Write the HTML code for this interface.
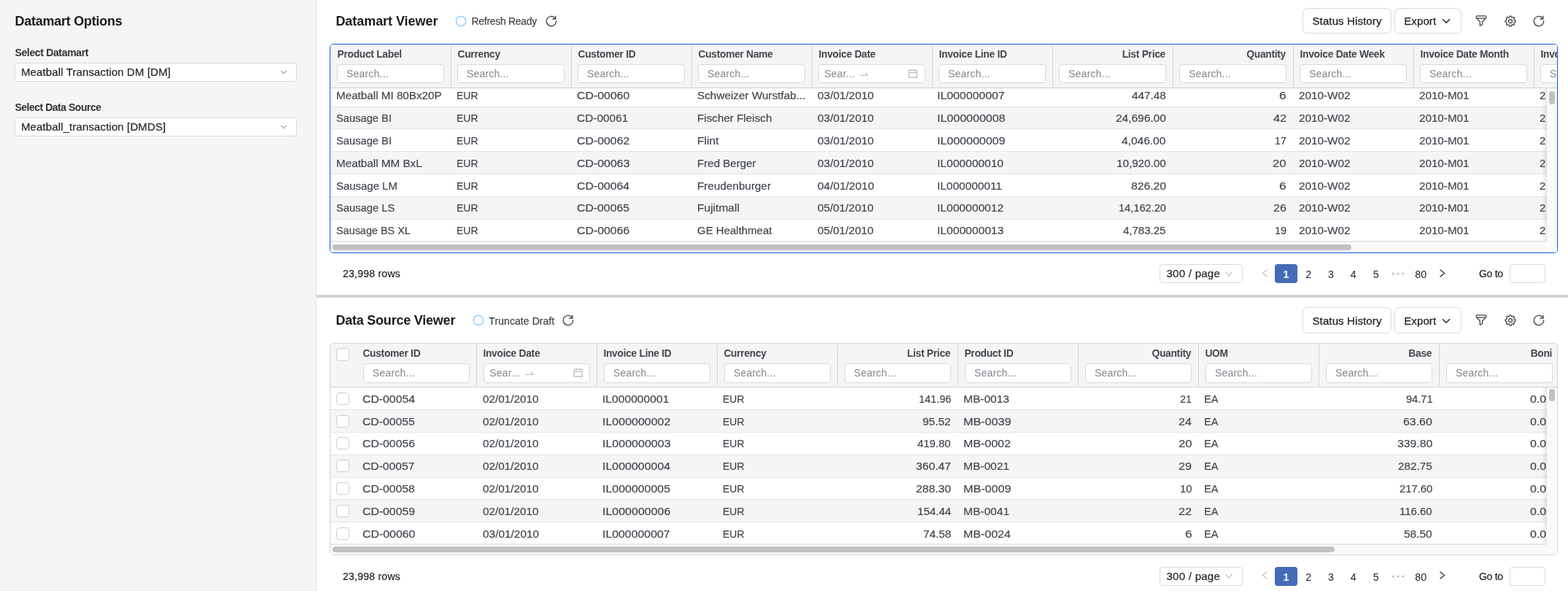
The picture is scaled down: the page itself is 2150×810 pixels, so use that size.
<!DOCTYPE html>
<html lang="en"><head><meta charset="utf-8"><title>Datamart Viewer</title>
<style>
*{box-sizing:border-box;margin:0;padding:0}
html,body{width:2150px;height:810px;overflow:hidden;background:#fff}
body{position:relative;font-family:"Liberation Sans",sans-serif;color:#41474e;-webkit-font-smoothing:antialiased}
.a{position:absolute;white-space:nowrap}
.ic{position:absolute;display:block}
.side{left:0;top:0;width:434px;height:810px;background:#f5f5f5;border-right:1px solid #e4e6e9}
.h1{font-size:18px;font-weight:700;color:#1a1a1a;line-height:24px;letter-spacing:-0.2px}
.lbl{font-size:14px;font-weight:700;color:#333;line-height:20px;letter-spacing:-0.4px}
.sel{background:#fff;border:1px solid #d9d9d9;border-radius:4px}
.selt{font-size:15px;color:#1f1f1f;line-height:20px;letter-spacing:0.12px;-webkit-text-stroke:0.2px #1f1f1f}
.status{font-size:14px;color:#40464c;line-height:20px;letter-spacing:-0.1px;-webkit-text-stroke:0.2px #40464c}
.ring{border:1.5px solid #79c3fb;border-radius:50%}
.btn{background:#fff;border:1px solid #d4d8dc;border-radius:7px}
.btnt{font-size:15px;color:#1f1f1f;line-height:20px;letter-spacing:0.12px;-webkit-text-stroke:0.25px #1f1f1f}
.split{left:434px;top:404px;width:1716px;height:4px;background:#ced2d6}
.tbl{overflow:hidden;border-radius:5px;background:#fff}
.tbl1{border:1px solid #0b5ed3}
.tbl2{border:1px solid #d0d5da}
.thead{left:0;top:0;height:60px;background:#f5f5f5;border-bottom:1px solid #cdd2d6}
.th{font-size:13.8px;font-weight:700;color:#42484f;line-height:20px;letter-spacing:-0.28px}
.vsep{width:1px;background:#d0d4d8}
.inp{background:#fff;border:1px solid #d9d9d9;border-radius:4px;height:26px}
.ph{font-size:14px;color:#83888f;line-height:20px;letter-spacing:0.2px}
.row{left:0;background:#fff;border-bottom:1px solid #e1e4e7}
.row.alt{background:#f5f5f5}
.td{transform-origin:0 0;font-size:15.1px;color:#41474e;line-height:20px;-webkit-text-stroke:0.2px #41474e}
.r{text-align:right}
.cb{background:#fff;border:1px solid #c9cfd5;border-radius:4px}
.hsb{background:#fafafa;border-top:1px solid #ececec}
.thumb{background:#c1c1c1;border-radius:4px}
.vsb{background:#fafafa}
.shadow{background:linear-gradient(to right,rgba(0,0,0,0),rgba(0,0,0,0.10))}
.ft{font-size:14px;color:#1f1f1f;line-height:20px;letter-spacing:0.25px;-webkit-text-stroke:0.2px #1f1f1f}
.pg{font-size:14.2px;color:#1f1f1f;line-height:20px;text-align:center}
.pgact{background:#456bb9;border-radius:4px}
</style></head><body>
<div class="a side"></div>
<div class="a h1" style="left:20.4px;top:17.36px;letter-spacing:-0.24px;">Datamart Options</div>
<div class="a lbl" style="left:20.4px;top:61.85px;letter-spacing:-0.34px;">Select Datamart</div>
<div class="a sel" style="left:20px;top:86px;width:387px;height:26px;"></div>
<div class="a selt" style="left:29px;top:89.00px;">Meatball Transaction DM [DM]</div>
<svg class="ic" style="left:376.00px;top:86.40px;width:26px;height:26px" viewBox="0 0 26 26" fill="none" stroke="#a9a9a9" stroke-width="1.3" stroke-linecap="round" stroke-linejoin="round"><path d="M9.50 11.15L13 14.85L16.50 11.15"/></svg>
<div class="a lbl" style="left:20.4px;top:136.85px;letter-spacing:-0.48px;">Select Data Source</div>
<div class="a sel" style="left:20px;top:161px;width:387px;height:26px;"></div>
<div class="a selt" style="left:29px;top:164.00px;">Meatball_transaction [DMDS]</div>
<svg class="ic" style="left:376.00px;top:161.40px;width:26px;height:26px" viewBox="0 0 26 26" fill="none" stroke="#a9a9a9" stroke-width="1.3" stroke-linecap="round" stroke-linejoin="round"><path d="M9.50 11.15L13 14.85L16.50 11.15"/></svg>
<div class="a h1" style="left:460.4px;top:17.36px;letter-spacing:-0.05px;">Datamart Viewer</div>
<svg class="ic" style="left:618.70px;top:15.70px;width:26px;height:26px" viewBox="0 0 26 26" fill="none" stroke="#82cafc" stroke-width="1.3" stroke-linecap="round" stroke-linejoin="round"><circle cx="13" cy="13" r="6.6"/></svg>
<div class="a status" style="left:646.5px;top:19.35px;letter-spacing:-0.3px;">Refresh Ready</div>
<svg class="ic" style="left:742.70px;top:15.50px;width:26px;height:26px" viewBox="0 0 26 26" fill="none" stroke="#3e444a" stroke-width="1.3" stroke-linecap="round" stroke-linejoin="round"><path d="M19.69 12.65A6.7 6.7 0 1 1 18.97 9.96"/><path d="M18.8 6.1V10H14.9"/></svg>
<div class="a btn" style="left:1786px;top:11px;width:122px;height:35px;"></div>
<div class="a btnt" style="left:1799.5px;top:18.60px;">Status History</div>
<div class="a btn" style="left:1912px;top:11px;width:92px;height:35px;"></div>
<div class="a btnt" style="left:1925.2px;top:18.60px;">Export</div>
<svg class="ic" style="left:1969.80px;top:16.30px;width:26px;height:26px" viewBox="0 0 26 26" fill="none" stroke="#25282c" stroke-width="1.5" stroke-linecap="round" stroke-linejoin="round"><path d="M8.50 10.75L13 15.25L17.50 10.75"/></svg>
<svg class="ic" style="left:2018.00px;top:16.00px;width:26px;height:26px" viewBox="0 0 26 26" fill="none" stroke="#3e444a" stroke-width="1.3" stroke-linecap="round" stroke-linejoin="round"><rect x="6.1" y="5.9" width="13.8" height="3.2" rx="1.6" ry="1.6"/><path d="M6.7 9.1L11.3 13.7V19.2L14.6 17.6V13.7L19.3 9.1"/></svg>
<svg class="ic" style="left:2057.80px;top:15.50px;width:26px;height:26px" viewBox="0 0 26 26" fill="none" stroke="#3e444a" stroke-width="1.25" stroke-linecap="round" stroke-linejoin="round"><path d="M11.62 7.68L11.83 6.00L14.17 6.00L14.38 7.68L15.79 8.26L17.12 7.22L18.78 8.88L17.74 10.21L18.32 11.62L20.00 11.83L20.00 14.17L18.32 14.38L17.74 15.79L18.78 17.12L17.12 18.78L15.79 17.74L14.38 18.32L14.17 20.00L11.83 20.00L11.62 18.32L10.21 17.74L8.88 18.78L7.22 17.12L8.26 15.79L7.68 14.38L6.00 14.17L6.00 11.83L7.68 11.62L8.26 10.21L7.22 8.88L8.88 7.22L10.21 8.26Z"/><circle cx="13" cy="13" r="2.5"/></svg>
<svg class="ic" style="left:2096.80px;top:15.50px;width:26px;height:26px" viewBox="0 0 26 26" fill="none" stroke="#3e444a" stroke-width="1.3" stroke-linecap="round" stroke-linejoin="round"><path d="M19.69 12.65A6.7 6.7 0 1 1 18.97 9.96"/><path d="M18.8 6.1V10H14.9"/></svg>
<div class="a tbl tbl1" style="left:452px;top:60px;width:1684px;height:287px"><div class="a thead" style="width:1684px"></div><div class="a vsep" style="left:165px;top:1px;width:1px;height:57px;"></div><div class="a th" style="left:9.5px;top:3.52px;">Product Label</div><div class="a inp" style="left:9px;top:27px;width:147px;height:26px;"></div><div class="a ph" style="left:22px;top:30.15px;">Search...</div><div class="a vsep" style="left:330px;top:1px;width:1px;height:57px;"></div><div class="a th" style="left:174.5px;top:3.52px;">Currency</div><div class="a inp" style="left:174px;top:27px;width:147px;height:26px;"></div><div class="a ph" style="left:187px;top:30.15px;">Search...</div><div class="a vsep" style="left:495px;top:1px;width:1px;height:57px;"></div><div class="a th" style="left:339.5px;top:3.52px;">Customer ID</div><div class="a inp" style="left:339px;top:27px;width:147px;height:26px;"></div><div class="a ph" style="left:352px;top:30.15px;">Search...</div><div class="a vsep" style="left:660px;top:1px;width:1px;height:57px;"></div><div class="a th" style="left:504.5px;top:3.52px;">Customer Name</div><div class="a inp" style="left:504px;top:27px;width:147px;height:26px;"></div><div class="a ph" style="left:517px;top:30.15px;">Search...</div><div class="a vsep" style="left:825px;top:1px;width:1px;height:57px;"></div><div class="a th" style="left:669.5px;top:3.52px;">Invoice Date</div><div class="a inp" style="left:669px;top:27px;width:147px;height:26px;"></div><div class="a ph" style="left:677.3px;top:30.15px;">Sear...</div><svg class="ic" style="left:724.8px;top:33.5px;width:13.5px;height:13.5px;" viewBox="64 64 896 896" fill="#b5b5b5"><path d="M873.1 596.2l-164-208A32 32 0 00684 376h-64.8c-6.700 0-10.400 7.700-6.300 13l144.300 183H152c-4.400 0-8 3.600-8 8v60c0 4.400 3.600 8 8 8h695.900c26.800 0 41.700-30.800 25.200-51.800z"/></svg><svg class="ic" style="left:792px;top:32.8px;width:13.4px;height:13.4px;" viewBox="64 64 896 896" fill="#b5b5b5"><path d="M880 184H712v-64c0-4.4-3.6-8-8-8h-56c-4.4 0-8 3.6-8 8v64H384v-64c0-4.4-3.6-8-8-8h-56c-4.4 0-8 3.6-8 8v64H144c-17.7 0-32 14.3-32 32v664c0 17.7 14.3 32 32 32h736c17.7 0 32-14.3 32-32V216c0-17.7-14.3-32-32-32zm-40 656H184V460h656v380zM184 392V256h128v48c0 4.4 3.600 8 8 8h56c4.400 0 8-3.600 8-8v-48h256v48c0 4.400 3.600 8 8 8h56c4.400 0 8-3.600 8-8v-48h128v136H184z"/></svg><div class="a vsep" style="left:990px;top:1px;width:1px;height:57px;"></div><div class="a th" style="left:834.5px;top:3.52px;">Invoice Line ID</div><div class="a inp" style="left:834px;top:27px;width:147px;height:26px;"></div><div class="a ph" style="left:847px;top:30.15px;">Search...</div><div class="a vsep" style="left:1155px;top:1px;width:1px;height:57px;"></div><div class="a th" style="left:999px;top:3.52px;width:146px;text-align:right;">List Price</div><div class="a inp" style="left:999px;top:27px;width:147px;height:26px;"></div><div class="a ph" style="left:1012px;top:30.15px;">Search...</div><div class="a vsep" style="left:1320px;top:1px;width:1px;height:57px;"></div><div class="a th" style="left:1164px;top:3.52px;width:146px;text-align:right;">Quantity</div><div class="a inp" style="left:1164px;top:27px;width:147px;height:26px;"></div><div class="a ph" style="left:1177px;top:30.15px;">Search...</div><div class="a vsep" style="left:1485px;top:1px;width:1px;height:57px;"></div><div class="a th" style="left:1329.5px;top:3.52px;">Invoice Date Week</div><div class="a inp" style="left:1329px;top:27px;width:147px;height:26px;"></div><div class="a ph" style="left:1342px;top:30.15px;">Search...</div><div class="a vsep" style="left:1650px;top:1px;width:1px;height:57px;"></div><div class="a th" style="left:1494.5px;top:3.52px;">Invoice Date Month</div><div class="a inp" style="left:1494px;top:27px;width:147px;height:26px;"></div><div class="a ph" style="left:1507px;top:30.15px;">Search...</div><div class="a vsep" style="left:1815px;top:1px;width:1px;height:57px;"></div><div class="a th" style="left:1659.5px;top:3.52px;">Invoice Date Quarter</div><div class="a inp" style="left:1659px;top:27px;width:147px;height:26px;"></div><div class="a ph" style="left:1672px;top:30.15px;">Search...</div><div class="a row" style="top:60px;width:1684px;height:26px;overflow:hidden"><div class="a td" style="left:7.55px;top:-0.23px;transform:scaleX(1.0085);">Meatball MI 80Bx20P</div><div class="a td" style="left:172.65px;top:-0.23px;transform:scaleX(0.9284);">EUR</div><div class="a td" style="left:338.01px;top:-0.23px;transform:scaleX(1.0519);">CD-00060</div><div class="a td" style="left:503.11px;top:-0.23px;transform:scaleX(1.0144);">Schweizer Wurstfab...</div><div class="a td" style="left:668.20px;top:-0.23px;transform:scaleX(1.0213);">03/01/2010</div><div class="a td" style="left:832.34px;top:-0.23px;transform:scaleX(1.0509);">IL000000007</div><div class="a td" style="left:1099.06px;top:-0.23px;transform:scaleX(1.0134);">447.48</div><div class="a td" style="left:1301.34px;top:-0.23px;transform:scaleX(1.1443);">6</div><div class="a td" style="left:1328.04px;top:-0.23px;transform:scaleX(1.0123);">2010-W02</div><div class="a td" style="left:1493.04px;top:-0.23px;transform:scaleX(1.0073);">2010-M01</div><div class="a" style="left:1657.80px;top:-0.23px;width:8.57px;height:20px;overflow:hidden"><div class="a td" style="left:0.26px;top:0;transform:scaleX(0.9834);">2010-Q1</div></div></div><div class="a row alt" style="top:86px;width:1684px;height:30px;overflow:hidden"><div class="a td" style="left:8.14px;top:4.77px;transform:scaleX(0.9735);">Sausage BI</div><div class="a td" style="left:172.65px;top:4.77px;transform:scaleX(0.9284);">EUR</div><div class="a td" style="left:338.03px;top:4.77px;transform:scaleX(1.0216);">CD-00061</div><div class="a td" style="left:502.55px;top:4.77px;transform:scaleX(1.0088);">Fischer Fleisch</div><div class="a td" style="left:668.20px;top:4.77px;transform:scaleX(1.0213);">03/01/2010</div><div class="a td" style="left:832.33px;top:4.77px;transform:scaleX(1.0612);">IL000000008</div><div class="a td" style="left:1077.03px;top:4.77px;transform:scaleX(1.0235);">24,696.00</div><div class="a td" style="left:1292.84px;top:4.77px;transform:scaleX(1.0825);">42</div><div class="a td" style="left:1328.04px;top:4.77px;transform:scaleX(1.0123);">2010-W02</div><div class="a td" style="left:1493.04px;top:4.77px;transform:scaleX(1.0073);">2010-M01</div><div class="a" style="left:1657.80px;top:4.77px;width:8.57px;height:20px;overflow:hidden"><div class="a td" style="left:0.26px;top:0;transform:scaleX(0.9834);">2010-Q1</div></div></div><div class="a row" style="top:116px;width:1684px;height:31px;overflow:hidden"><div class="a td" style="left:8.14px;top:5.77px;transform:scaleX(0.9735);">Sausage BI</div><div class="a td" style="left:172.65px;top:5.77px;transform:scaleX(0.9284);">EUR</div><div class="a td" style="left:338.01px;top:5.77px;transform:scaleX(1.0514);">CD-00062</div><div class="a td" style="left:502.52px;top:5.77px;transform:scaleX(1.0375);">Flint</div><div class="a td" style="left:668.20px;top:5.77px;transform:scaleX(1.0213);">03/01/2010</div><div class="a td" style="left:832.33px;top:5.77px;transform:scaleX(1.0594);">IL000000009</div><div class="a td" style="left:1085.46px;top:5.77px;transform:scaleX(1.0266);">4,046.00</div><div class="a td" style="left:1295.12px;top:5.77px;transform:scaleX(0.9403);">17</div><div class="a td" style="left:1328.04px;top:5.77px;transform:scaleX(1.0123);">2010-W02</div><div class="a td" style="left:1493.04px;top:5.77px;transform:scaleX(1.0073);">2010-M01</div><div class="a" style="left:1657.80px;top:5.77px;width:8.57px;height:20px;overflow:hidden"><div class="a td" style="left:0.26px;top:0;transform:scaleX(0.9834);">2010-Q1</div></div></div><div class="a row alt" style="top:147px;width:1684px;height:31px;overflow:hidden"><div class="a td" style="left:7.55px;top:5.77px;transform:scaleX(1.0095);">Meatball MM BxL</div><div class="a td" style="left:172.65px;top:5.77px;transform:scaleX(0.9284);">EUR</div><div class="a td" style="left:338.00px;top:5.77px;transform:scaleX(1.0538);">CD-00063</div><div class="a td" style="left:502.56px;top:5.77px;transform:scaleX(1.0015);">Fred Berger</div><div class="a td" style="left:668.20px;top:5.77px;transform:scaleX(1.0213);">03/01/2010</div><div class="a td" style="left:832.37px;top:5.77px;transform:scaleX(1.0324);">IL000000010</div><div class="a td" style="left:1078.04px;top:5.77px;transform:scaleX(1.0083);">10,920.00</div><div class="a td" style="left:1292.37px;top:5.77px;transform:scaleX(1.0994);">20</div><div class="a td" style="left:1328.04px;top:5.77px;transform:scaleX(1.0123);">2010-W02</div><div class="a td" style="left:1493.04px;top:5.77px;transform:scaleX(1.0073);">2010-M01</div><div class="a" style="left:1657.80px;top:5.77px;width:8.57px;height:20px;overflow:hidden"><div class="a td" style="left:0.26px;top:0;transform:scaleX(0.9834);">2010-Q1</div></div></div><div class="a row" style="top:178px;width:1684px;height:31px;overflow:hidden"><div class="a td" style="left:8.13px;top:5.77px;transform:scaleX(0.9895);">Sausage LM</div><div class="a td" style="left:172.65px;top:5.77px;transform:scaleX(0.9284);">EUR</div><div class="a td" style="left:338.01px;top:5.77px;transform:scaleX(1.0489);">CD-00064</div><div class="a td" style="left:502.55px;top:5.77px;transform:scaleX(1.0121);">Freudenburger</div><div class="a td" style="left:668.20px;top:5.77px;transform:scaleX(1.0267);">04/01/2010</div><div class="a td" style="left:832.38px;top:5.77px;transform:scaleX(1.0219);">IL000000011</div><div class="a td" style="left:1097.72px;top:5.77px;transform:scaleX(1.0411);">826.20</div><div class="a td" style="left:1301.34px;top:5.77px;transform:scaleX(1.1443);">6</div><div class="a td" style="left:1328.04px;top:5.77px;transform:scaleX(1.0123);">2010-W02</div><div class="a td" style="left:1493.04px;top:5.77px;transform:scaleX(1.0073);">2010-M01</div><div class="a" style="left:1657.80px;top:5.77px;width:8.57px;height:20px;overflow:hidden"><div class="a td" style="left:0.26px;top:0;transform:scaleX(0.9834);">2010-Q1</div></div></div><div class="a row alt" style="top:209px;width:1684px;height:31px;overflow:hidden"><div class="a td" style="left:8.14px;top:5.17px;transform:scaleX(0.9763);">Sausage LS</div><div class="a td" style="left:172.65px;top:5.17px;transform:scaleX(0.9284);">EUR</div><div class="a td" style="left:338.01px;top:5.17px;transform:scaleX(1.0461);">CD-00065</div><div class="a td" style="left:502.52px;top:5.17px;transform:scaleX(1.0305);">Fujitmall</div><div class="a td" style="left:668.20px;top:5.17px;transform:scaleX(1.0153);">05/01/2010</div><div class="a td" style="left:832.36px;top:5.17px;transform:scaleX(1.0333);">IL000000012</div><div class="a td" style="left:1080.78px;top:5.17px;transform:scaleX(0.9672);">14,162.20</div><div class="a td" style="left:1292.93px;top:5.17px;transform:scaleX(1.0697);">26</div><div class="a td" style="left:1328.04px;top:5.17px;transform:scaleX(1.0123);">2010-W02</div><div class="a td" style="left:1493.04px;top:5.17px;transform:scaleX(1.0073);">2010-M01</div><div class="a" style="left:1657.80px;top:5.17px;width:8.57px;height:20px;overflow:hidden"><div class="a td" style="left:0.26px;top:0;transform:scaleX(0.9834);">2010-Q1</div></div></div><div class="a row" style="top:240px;width:1684px;height:30px;overflow:hidden"><div class="a td" style="left:8.15px;top:4.57px;transform:scaleX(0.9552);">Sausage BS XL</div><div class="a td" style="left:172.65px;top:4.57px;transform:scaleX(0.9284);">EUR</div><div class="a td" style="left:338.01px;top:4.57px;transform:scaleX(1.0505);">CD-00066</div><div class="a td" style="left:503.05px;top:4.57px;transform:scaleX(0.9928);">GE Healthmeat</div><div class="a td" style="left:668.20px;top:4.57px;transform:scaleX(1.0153);">05/01/2010</div><div class="a td" style="left:832.36px;top:4.57px;transform:scaleX(1.0352);">IL000000013</div><div class="a td" style="left:1087.40px;top:4.57px;transform:scaleX(0.9940);">4,783.25</div><div class="a td" style="left:1294.65px;top:4.57px;transform:scaleX(0.9669);">19</div><div class="a td" style="left:1328.04px;top:4.57px;transform:scaleX(1.0123);">2010-W02</div><div class="a td" style="left:1493.04px;top:4.57px;transform:scaleX(1.0073);">2010-M01</div><div class="a" style="left:1657.80px;top:4.57px;width:8.57px;height:20px;overflow:hidden"><div class="a td" style="left:0.26px;top:0;transform:scaleX(0.9834);">2010-Q1</div></div></div><div class="a hsb" style="left:0px;top:270px;width:1682px;height:15px;"><div class="a thumb" style="left:3px;top:3px;width:1397px;height:8px;"></div></div><div class="a shadow" style="left:1661px;top:60px;width:7px;height:209px;"></div><div class="a vsb" style="left:1668px;top:60px;width:15px;height:225px;"><div class="a thumb" style="left:3px;top:4px;width:8px;height:18px;"></div></div></div>
<div class="a ft" style="left:470px;top:365.35px;">23,998 rows</div>
<div class="a sel" style="left:1590px;top:362px;width:114px;height:26px;"></div>
<div class="a selt" style="left:1599.5px;top:365.20px;letter-spacing:0.27px;">300 / page</div>
<svg class="ic" style="left:1678.5px;top:369.5px;width:11.5px;height:11.5px;" viewBox="64 64 896 896" fill="#b9b9b9"><path d="M884 256h-75c-5.1 0-9.9 2.5-12.9 6.6L512 654.2 227.9 262.6c-3-4.1-7.7-6.6-12.9-6.6h-75c-6.5 0-10.3 7.4-6.5 12.7l352.6 486.1c12.8 17.6 39 17.6 51.7 0l352.6-486.1c3.9-5.3.1-12.7-6.4-12.7z"/></svg>
<svg class="ic" style="left:1728px;top:367.6px;width:13px;height:13px;" viewBox="64 64 896 896" fill="#bfbfbf"><path d="M724 218.3V141c0-6.700-7.700-10.400-12.900-6.300L260.300 486.800a31.860 31.860 0 000 50.300l450.800 352.100c5.300 4.100 12.900.4 12.900-6.300v-77.300c0-4.900-2.300-9.600-6.100-12.600l-360-281 360-281.100c3.800-3 6.100-7.700 6.100-12.600z"/></svg>
<div class="a pgact" style="left:1748px;top:362px;width:31px;height:26px;"></div>
<div class="a pg" style="left:1748.0px;top:366.18px;width:30.8px;color:#fff;font-weight:700;">1</div>
<div class="a pg" style="left:1778.8px;top:366.18px;width:30.8px;">2</div>
<div class="a pg" style="left:1809.6px;top:366.18px;width:30.8px;">3</div>
<div class="a pg" style="left:1840.4px;top:366.18px;width:30.8px;">4</div>
<div class="a pg" style="left:1871.2px;top:366.18px;width:30.8px;">5</div>
<div class="a pg" style="left:1932.8px;top:366.18px;width:30.8px;">80</div>
<svg class="ic" style="left:1903.80px;top:361.50px;width:26px;height:26px" viewBox="0 0 26 26" fill="#bcbcbc" stroke="none" stroke-width="0" stroke-linecap="round" stroke-linejoin="round"><circle cx="6.2" cy="13" r="1.5"/><circle cx="13" cy="13" r="1.5"/><circle cx="19.8" cy="13" r="1.5"/></svg>
<svg class="ic" style="left:1971.3px;top:368.4px;width:13px;height:13px;" viewBox="64 64 896 896" fill="#1f1f1f"><path d="M765.7 486.8L314.900 134.700A7.970 7.970 0 00302 141v77.300c0 4.900 2.300 9.600 6.100 12.600l360 281.100-360 281.100c-3.900 3-6.100 7.700-6.100 12.600V883c0 6.700 7.700 10.400 12.900 6.300l450.800-352.100a31.960 31.960 0 000-50.400z"/></svg>
<div class="a ft" style="left:2028px;top:365.35px;letter-spacing:-0.3px;">Go to</div>
<div class="a sel" style="left:2070px;top:362px;width:49px;height:26px;"></div>
<div class="a split"></div>
<div class="a h1" style="left:460.4px;top:427.36px;letter-spacing:-0.22px;">Data Source Viewer</div>
<svg class="ic" style="left:642.60px;top:426.00px;width:26px;height:26px" viewBox="0 0 26 26" fill="none" stroke="#82cafc" stroke-width="1.3" stroke-linecap="round" stroke-linejoin="round"><circle cx="13" cy="13" r="6.6"/></svg>
<div class="a status" style="left:670.3px;top:429.65px;letter-spacing:0.08px;">Truncate Draft</div>
<svg class="ic" style="left:765.90px;top:425.80px;width:26px;height:26px" viewBox="0 0 26 26" fill="none" stroke="#3e444a" stroke-width="1.3" stroke-linecap="round" stroke-linejoin="round"><path d="M19.69 12.65A6.7 6.7 0 1 1 18.97 9.96"/><path d="M18.8 6.1V10H14.9"/></svg>
<div class="a btn" style="left:1786px;top:421px;width:122px;height:36px;"></div>
<div class="a btnt" style="left:1799.5px;top:429.70px;">Status History</div>
<div class="a btn" style="left:1912px;top:421px;width:92px;height:36px;"></div>
<div class="a btnt" style="left:1925.2px;top:429.70px;">Export</div>
<svg class="ic" style="left:1969.80px;top:427.00px;width:26px;height:26px" viewBox="0 0 26 26" fill="none" stroke="#25282c" stroke-width="1.5" stroke-linecap="round" stroke-linejoin="round"><path d="M8.50 10.75L13 15.25L17.50 10.75"/></svg>
<svg class="ic" style="left:2018.00px;top:426.30px;width:26px;height:26px" viewBox="0 0 26 26" fill="none" stroke="#3e444a" stroke-width="1.3" stroke-linecap="round" stroke-linejoin="round"><rect x="6.1" y="5.9" width="13.8" height="3.2" rx="1.6" ry="1.6"/><path d="M6.7 9.1L11.3 13.7V19.2L14.6 17.6V13.7L19.3 9.1"/></svg>
<svg class="ic" style="left:2057.80px;top:425.80px;width:26px;height:26px" viewBox="0 0 26 26" fill="none" stroke="#3e444a" stroke-width="1.25" stroke-linecap="round" stroke-linejoin="round"><path d="M11.62 7.68L11.83 6.00L14.17 6.00L14.38 7.68L15.79 8.26L17.12 7.22L18.78 8.88L17.74 10.21L18.32 11.62L20.00 11.83L20.00 14.17L18.32 14.38L17.74 15.79L18.78 17.12L17.12 18.78L15.79 17.74L14.38 18.32L14.17 20.00L11.83 20.00L11.62 18.32L10.21 17.74L8.88 18.78L7.22 17.12L8.26 15.79L7.68 14.38L6.00 14.17L6.00 11.83L7.68 11.62L8.26 10.21L7.22 8.88L8.88 7.22L10.21 8.26Z"/><circle cx="13" cy="13" r="2.5"/></svg>
<svg class="ic" style="left:2096.80px;top:425.80px;width:26px;height:26px" viewBox="0 0 26 26" fill="none" stroke="#3e444a" stroke-width="1.3" stroke-linecap="round" stroke-linejoin="round"><path d="M19.69 12.65A6.7 6.7 0 1 1 18.97 9.96"/><path d="M18.8 6.1V10H14.9"/></svg>
<div class="a tbl tbl2" style="left:452px;top:470px;width:1684px;height:291px"><div class="a thead" style="width:1684px"></div><div class="a cb" style="left:8.199999999999989px;top:6.399999999999977px;width:17.6px;height:17.6px;"></div><div class="a vsep" style="left:200.20000000000005px;top:1px;width:1px;height:57px;"></div><div class="a th" style="left:44.39999999999998px;top:3.52px;">Customer ID</div><div class="a inp" style="left:45.0px;top:27px;width:146px;height:27px;"></div><div class="a ph" style="left:58.0px;top:30.15px;">Search...</div><div class="a vsep" style="left:365.20000000000005px;top:1px;width:1px;height:57px;"></div><div class="a th" style="left:209.4000000000001px;top:3.52px;">Invoice Date</div><div class="a inp" style="left:210.0px;top:27px;width:146px;height:27px;"></div><div class="a ph" style="left:218.29999999999995px;top:30.15px;">Sear...</div><svg class="ic" style="left:265.79999999999995px;top:33.5px;width:13.5px;height:13.5px;" viewBox="64 64 896 896" fill="#b5b5b5"><path d="M873.1 596.2l-164-208A32 32 0 00684 376h-64.8c-6.700 0-10.400 7.700-6.300 13l144.300 183H152c-4.400 0-8 3.600-8 8v60c0 4.400 3.600 8 8 8h695.900c26.800 0 41.700-30.800 25.200-51.800z"/></svg><svg class="ic" style="left:333.0px;top:32.80000000000001px;width:13.4px;height:13.4px;" viewBox="64 64 896 896" fill="#b5b5b5"><path d="M880 184H712v-64c0-4.4-3.6-8-8-8h-56c-4.4 0-8 3.6-8 8v64H384v-64c0-4.4-3.6-8-8-8h-56c-4.4 0-8 3.6-8 8v64H144c-17.7 0-32 14.3-32 32v664c0 17.7 14.3 32 32 32h736c17.7 0 32-14.3 32-32V216c0-17.7-14.3-32-32-32zm-40 656H184V460h656v380zM184 392V256h128v48c0 4.4 3.600 8 8 8h56c4.400 0 8-3.600 8-8v-48h256v48c0 4.400 3.600 8 8 8h56c4.400 0 8-3.600 8-8v-48h128v136H184z"/></svg><div class="a vsep" style="left:530.2px;top:1px;width:1px;height:57px;"></div><div class="a th" style="left:374.4000000000001px;top:3.52px;">Invoice Line ID</div><div class="a inp" style="left:375.0px;top:27px;width:146px;height:27px;"></div><div class="a ph" style="left:388.0px;top:30.15px;">Search...</div><div class="a vsep" style="left:695.2px;top:1px;width:1px;height:57px;"></div><div class="a th" style="left:539.4000000000001px;top:3.52px;">Currency</div><div class="a inp" style="left:540.0px;top:27px;width:146px;height:27px;"></div><div class="a ph" style="left:553.0px;top:30.15px;">Search...</div><div class="a vsep" style="left:860.2px;top:1px;width:1px;height:57px;"></div><div class="a th" style="left:704.2px;top:3.52px;width:146px;text-align:right;">List Price</div><div class="a inp" style="left:705.0px;top:27px;width:146px;height:27px;"></div><div class="a ph" style="left:718.0px;top:30.15px;">Search...</div><div class="a vsep" style="left:1025.2px;top:1px;width:1px;height:57px;"></div><div class="a th" style="left:869.4000000000001px;top:3.52px;">Product ID</div><div class="a inp" style="left:870.0px;top:27px;width:146px;height:27px;"></div><div class="a ph" style="left:883.0px;top:30.15px;">Search...</div><div class="a vsep" style="left:1190.2px;top:1px;width:1px;height:57px;"></div><div class="a th" style="left:1034.2px;top:3.52px;width:146px;text-align:right;">Quantity</div><div class="a inp" style="left:1035.0px;top:27px;width:146px;height:27px;"></div><div class="a ph" style="left:1048.0px;top:30.15px;">Search...</div><div class="a vsep" style="left:1355.2px;top:1px;width:1px;height:57px;"></div><div class="a th" style="left:1199.4px;top:3.52px;">UOM</div><div class="a inp" style="left:1200.0px;top:27px;width:146px;height:27px;"></div><div class="a ph" style="left:1213.0px;top:30.15px;">Search...</div><div class="a vsep" style="left:1520.2px;top:1px;width:1px;height:57px;"></div><div class="a th" style="left:1364.2px;top:3.52px;width:146px;text-align:right;">Base</div><div class="a inp" style="left:1365.0px;top:27px;width:146px;height:27px;"></div><div class="a ph" style="left:1378.0px;top:30.15px;">Search...</div><div class="a vsep" style="left:1685.1999999999998px;top:1px;width:1px;height:57px;"></div><div class="a th" style="left:1529.2px;top:3.52px;width:146px;text-align:right;">Boni</div><div class="a inp" style="left:1530.0px;top:27px;width:146px;height:27px;"></div><div class="a ph" style="left:1543.0px;top:30.15px;">Search...</div><div class="a row" style="top:60px;width:1684px;height:31px;overflow:hidden"><div class="a cb" style="left:8.199999999999989px;top:6.8px;width:17.6px;height:17.6px;"></div><div class="a td" style="left:43.81px;top:5.77px;transform:scaleX(1.0468);">CD-00054</div><div class="a td" style="left:209.00px;top:5.77px;transform:scaleX(1.0133);">02/01/2010</div><div class="a td" style="left:373.16px;top:5.77px;transform:scaleX(1.0364);">IL000000001</div><div class="a td" style="left:538.45px;top:5.77px;transform:scaleX(0.9284);">EUR</div><div class="a td" style="left:806.70px;top:5.77px;transform:scaleX(0.9599);">141.96</div><div class="a td" style="left:868.33px;top:5.77px;transform:scaleX(1.0271);">MB-0013</div><div class="a td" style="left:1165.26px;top:5.77px;transform:scaleX(0.9423);">21</div><div class="a td" style="left:1198.41px;top:5.77px;transform:scaleX(0.9602);">EA</div><div class="a td" style="left:1474.54px;top:5.77px;transform:scaleX(0.9676);">94.71</div><div class="a" style="left:1644.55px;top:5.77px;width:22.77px;height:20px;overflow:hidden"><div class="a td" style="left:0.38px;top:0;transform:scaleX(1.0576);">0.00</div></div></div><div class="a row alt" style="top:91px;width:1684px;height:31px;overflow:hidden"><div class="a cb" style="left:8.199999999999989px;top:6.8px;width:17.6px;height:17.6px;"></div><div class="a td" style="left:43.81px;top:5.77px;transform:scaleX(1.0422);">CD-00055</div><div class="a td" style="left:209.00px;top:5.77px;transform:scaleX(1.0133);">02/01/2010</div><div class="a td" style="left:373.13px;top:5.77px;transform:scaleX(1.0598);">IL000000002</div><div class="a td" style="left:538.45px;top:5.77px;transform:scaleX(0.9284);">EUR</div><div class="a td" style="left:812.49px;top:5.77px;transform:scaleX(1.0239);">95.52</div><div class="a td" style="left:868.28px;top:5.77px;transform:scaleX(1.0686);">MB-0039</div><div class="a td" style="left:1163.02px;top:5.77px;transform:scaleX(1.0627);">24</div><div class="a td" style="left:1198.41px;top:5.77px;transform:scaleX(0.9602);">EA</div><div class="a td" style="left:1471.28px;top:5.77px;transform:scaleX(1.0514);">63.60</div><div class="a" style="left:1644.55px;top:5.77px;width:22.77px;height:20px;overflow:hidden"><div class="a td" style="left:0.38px;top:0;transform:scaleX(1.0576);">0.00</div></div></div><div class="a row" style="top:122px;width:1684px;height:31px;overflow:hidden"><div class="a cb" style="left:8.199999999999989px;top:5.8px;width:17.6px;height:17.6px;"></div><div class="a td" style="left:43.81px;top:4.77px;transform:scaleX(1.0465);">CD-00056</div><div class="a td" style="left:209.00px;top:4.77px;transform:scaleX(1.0133);">02/01/2010</div><div class="a td" style="left:373.13px;top:4.77px;transform:scaleX(1.0617);">IL000000003</div><div class="a td" style="left:538.45px;top:4.77px;transform:scaleX(0.9284);">EUR</div><div class="a td" style="left:805.47px;top:4.77px;transform:scaleX(0.9852);">419.80</div><div class="a td" style="left:868.29px;top:4.77px;transform:scaleX(1.0593);">MB-0002</div><div class="a td" style="left:1162.57px;top:4.77px;transform:scaleX(1.0994);">20</div><div class="a td" style="left:1198.41px;top:4.77px;transform:scaleX(0.9602);">EA</div><div class="a td" style="left:1462.72px;top:4.77px;transform:scaleX(1.0455);">339.80</div><div class="a" style="left:1644.55px;top:4.77px;width:22.77px;height:20px;overflow:hidden"><div class="a td" style="left:0.38px;top:0;transform:scaleX(1.0576);">0.00</div></div></div><div class="a row alt" style="top:153px;width:1684px;height:31px;overflow:hidden"><div class="a cb" style="left:8.199999999999989px;top:5.8px;width:17.6px;height:17.6px;"></div><div class="a td" style="left:43.82px;top:4.77px;transform:scaleX(1.0376);">CD-00057</div><div class="a td" style="left:209.00px;top:4.77px;transform:scaleX(1.0133);">02/01/2010</div><div class="a td" style="left:373.13px;top:4.77px;transform:scaleX(1.0579);">IL000000004</div><div class="a td" style="left:538.45px;top:4.77px;transform:scaleX(0.9284);">EUR</div><div class="a td" style="left:803.20px;top:4.77px;transform:scaleX(1.0391);">360.47</div><div class="a td" style="left:868.33px;top:4.77px;transform:scaleX(1.0284);">MB-0021</div><div class="a td" style="left:1163.17px;top:4.77px;transform:scaleX(1.0713);">29</div><div class="a td" style="left:1198.41px;top:4.77px;transform:scaleX(0.9602);">EA</div><div class="a td" style="left:1464.30px;top:4.77px;transform:scaleX(1.0119);">282.75</div><div class="a" style="left:1644.55px;top:4.77px;width:22.77px;height:20px;overflow:hidden"><div class="a td" style="left:0.38px;top:0;transform:scaleX(1.0576);">0.00</div></div></div><div class="a row" style="top:184px;width:1684px;height:30px;overflow:hidden"><div class="a cb" style="left:8.199999999999989px;top:5.8px;width:17.6px;height:17.6px;"></div><div class="a td" style="left:43.81px;top:4.77px;transform:scaleX(1.0437);">CD-00058</div><div class="a td" style="left:209.00px;top:4.77px;transform:scaleX(1.0133);">02/01/2010</div><div class="a td" style="left:373.13px;top:4.77px;transform:scaleX(1.0557);">IL000000005</div><div class="a td" style="left:538.45px;top:4.77px;transform:scaleX(0.9284);">EUR</div><div class="a td" style="left:803.02px;top:4.77px;transform:scaleX(1.0391);">288.30</div><div class="a td" style="left:868.28px;top:4.77px;transform:scaleX(1.0686);">MB-0009</div><div class="a td" style="left:1164.55px;top:4.77px;transform:scaleX(0.9774);">10</div><div class="a td" style="left:1198.41px;top:4.77px;transform:scaleX(0.9602);">EA</div><div class="a td" style="left:1465.60px;top:4.77px;transform:scaleX(0.9825);">217.60</div><div class="a" style="left:1644.55px;top:4.77px;width:22.77px;height:20px;overflow:hidden"><div class="a td" style="left:0.38px;top:0;transform:scaleX(1.0576);">0.00</div></div></div><div class="a row alt" style="top:214px;width:1684px;height:31px;overflow:hidden"><div class="a cb" style="left:8.199999999999989px;top:6.8px;width:17.6px;height:17.6px;"></div><div class="a td" style="left:43.81px;top:5.77px;transform:scaleX(1.0469);">CD-00059</div><div class="a td" style="left:209.00px;top:5.77px;transform:scaleX(1.0133);">02/01/2010</div><div class="a td" style="left:373.13px;top:5.77px;transform:scaleX(1.0591);">IL000000006</div><div class="a td" style="left:538.45px;top:5.77px;transform:scaleX(0.9284);">EUR</div><div class="a td" style="left:804.58px;top:5.77px;transform:scaleX(1.0017);">154.44</div><div class="a td" style="left:868.33px;top:5.77px;transform:scaleX(1.0292);">MB-0041</div><div class="a td" style="left:1163.18px;top:5.77px;transform:scaleX(1.0737);">22</div><div class="a td" style="left:1198.41px;top:5.77px;transform:scaleX(0.9602);">EA</div><div class="a td" style="left:1466.47px;top:5.77px;transform:scaleX(0.9875);">116.60</div><div class="a" style="left:1644.55px;top:5.77px;width:22.77px;height:20px;overflow:hidden"><div class="a td" style="left:0.38px;top:0;transform:scaleX(1.0576);">0.00</div></div></div><div class="a row" style="top:245px;width:1684px;height:30px;overflow:hidden"><div class="a cb" style="left:8.199999999999989px;top:6.8px;width:17.6px;height:17.6px;"></div><div class="a td" style="left:43.81px;top:5.77px;transform:scaleX(1.0519);">CD-00060</div><div class="a td" style="left:209.00px;top:5.77px;transform:scaleX(1.0213);">03/01/2010</div><div class="a td" style="left:373.14px;top:5.77px;transform:scaleX(1.0509);">IL000000007</div><div class="a td" style="left:538.45px;top:5.77px;transform:scaleX(0.9284);">EUR</div><div class="a td" style="left:812.82px;top:5.77px;transform:scaleX(1.0120);">74.58</div><div class="a td" style="left:868.29px;top:5.77px;transform:scaleX(1.0575);">MB-0024</div><div class="a td" style="left:1171.54px;top:5.77px;transform:scaleX(1.1443);">6</div><div class="a td" style="left:1198.41px;top:5.77px;transform:scaleX(0.9602);">EA</div><div class="a td" style="left:1472.40px;top:5.77px;transform:scaleX(1.0213);">58.50</div><div class="a" style="left:1644.55px;top:5.77px;width:22.77px;height:20px;overflow:hidden"><div class="a td" style="left:0.38px;top:0;transform:scaleX(1.0576);">0.00</div></div></div><div class="a hsb" style="left:0px;top:275px;width:1682px;height:14px;"><div class="a thumb" style="left:3px;top:2px;width:1374px;height:8px;"></div></div><div class="a shadow" style="left:1661px;top:60px;width:7px;height:214px;"></div><div class="a vsb" style="left:1668px;top:60px;width:15px;height:229px;"><div class="a thumb" style="left:3px;top:1.5px;width:8px;height:17px;"></div></div></div>
<div class="a ft" style="left:470px;top:780.35px;">23,998 rows</div>
<div class="a sel" style="left:1590px;top:777px;width:114px;height:26px;"></div>
<div class="a selt" style="left:1599.5px;top:780.20px;letter-spacing:0.27px;">300 / page</div>
<svg class="ic" style="left:1678.5px;top:783.5px;width:11.5px;height:11.5px;" viewBox="64 64 896 896" fill="#b9b9b9"><path d="M884 256h-75c-5.1 0-9.9 2.5-12.9 6.6L512 654.2 227.9 262.6c-3-4.1-7.7-6.6-12.9-6.6h-75c-6.5 0-10.3 7.4-6.5 12.7l352.6 486.1c12.8 17.6 39 17.6 51.7 0l352.6-486.1c3.9-5.3.1-12.7-6.4-12.7z"/></svg>
<svg class="ic" style="left:1728px;top:781.6px;width:13px;height:13px;" viewBox="64 64 896 896" fill="#bfbfbf"><path d="M724 218.3V141c0-6.700-7.700-10.400-12.900-6.300L260.300 486.800a31.860 31.860 0 000 50.300l450.800 352.100c5.300 4.100 12.900.4 12.900-6.300v-77.300c0-4.900-2.300-9.600-6.100-12.600l-360-281 360-281.100c3.800-3 6.100-7.700 6.100-12.600z"/></svg>
<div class="a pgact" style="left:1748px;top:777px;width:31px;height:26px;"></div>
<div class="a pg" style="left:1748.0px;top:781.18px;width:30.8px;color:#fff;font-weight:700;">1</div>
<div class="a pg" style="left:1778.8px;top:781.18px;width:30.8px;">2</div>
<div class="a pg" style="left:1809.6px;top:781.18px;width:30.8px;">3</div>
<div class="a pg" style="left:1840.4px;top:781.18px;width:30.8px;">4</div>
<div class="a pg" style="left:1871.2px;top:781.18px;width:30.8px;">5</div>
<div class="a pg" style="left:1932.8px;top:781.18px;width:30.8px;">80</div>
<svg class="ic" style="left:1903.80px;top:776.50px;width:26px;height:26px" viewBox="0 0 26 26" fill="#bcbcbc" stroke="none" stroke-width="0" stroke-linecap="round" stroke-linejoin="round"><circle cx="6.2" cy="13" r="1.5"/><circle cx="13" cy="13" r="1.5"/><circle cx="19.8" cy="13" r="1.5"/></svg>
<svg class="ic" style="left:1971.3px;top:782.4px;width:13px;height:13px;" viewBox="64 64 896 896" fill="#1f1f1f"><path d="M765.7 486.8L314.900 134.700A7.970 7.970 0 00302 141v77.300c0 4.900 2.300 9.600 6.100 12.600l360 281.100-360 281.100c-3.900 3-6.100 7.700-6.100 12.600V883c0 6.700 7.700 10.400 12.900 6.300l450.800-352.100a31.960 31.960 0 000-50.400z"/></svg>
<div class="a ft" style="left:2028px;top:780.35px;letter-spacing:-0.3px;">Go to</div>
<div class="a sel" style="left:2070px;top:777px;width:49px;height:26px;"></div>
</body></html>
